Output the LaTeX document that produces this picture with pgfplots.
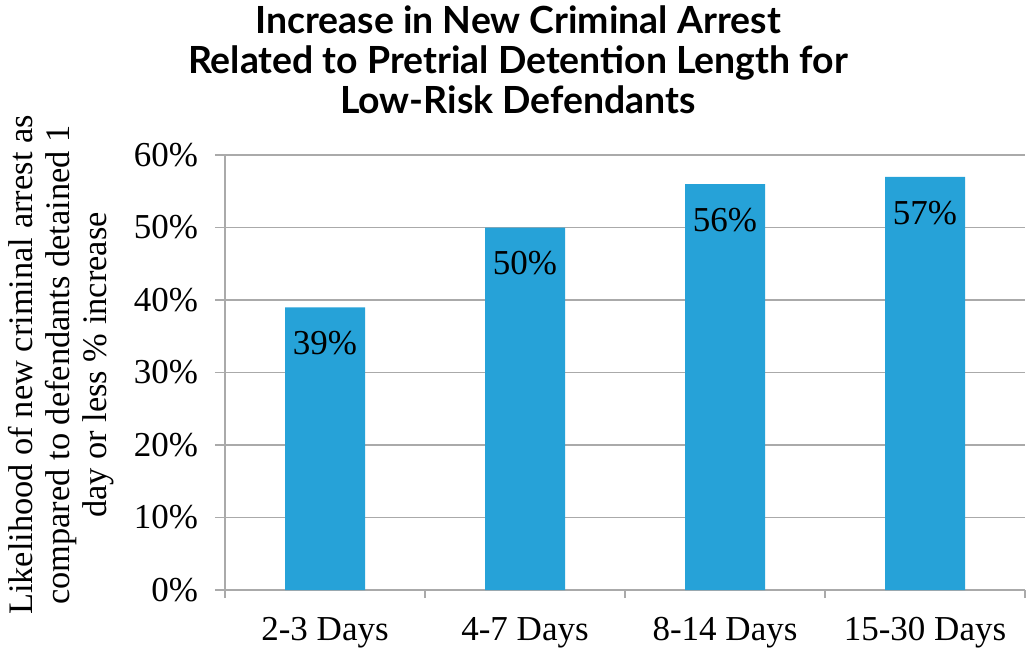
\documentclass[border=0pt]{standalone}
\usepackage{pgfplots}
\pgfplotsset{compat=1.18}
\usepackage{fontspec}
\setmainfont{Liberation Serif}
\newfontfamily\titlefont{Lato}
\definecolor{barblue}{RGB}{38,162,216}
\definecolor{gridgray}{RGB}{170,170,170}

\begin{document}
\begin{tikzpicture}
\path[use as bounding box] (-112.5pt,-30pt) rectangle (400.5pt,295pt);
\begin{axis}[
	at={(0,0)}, anchor=south west,
	scale only axis, width=400pt, height=217.5pt,
	ybar, bar width=40pt,
	xmin=-0.5, xmax=3.5, ymin=0, ymax=60,
	axis x line=bottom, axis y line=left,
	axis line style={-, draw=gridgray, line width=0.8pt},
	ytick={0,10,...,60},
	yticklabel={\pgfmathprintnumber{\tick}\%},
	ymajorgrids, grid style={gridgray, line width=0.8pt},
	xtick={0,1,2,3},
	xticklabels={2-3 Days, 4-7 Days, 8-14 Days, 15-30 Days},
	minor xtick={-0.5,0.5,1.5,2.5,3.5},
	tick align=outside, major tick length=5pt, minor tick length=4pt,
	tick style={draw=gridgray, line width=0.8pt},
	major x tick style={draw=none},
	ticklabel style={font=\fontsize{17.5}{20}\selectfont},
	yticklabel style={xshift=-5pt},
	xticklabel style={yshift=-5pt},
	/pgf/number format/assume math mode=true,
	nodes near coords={\pgfmathprintnumber{\pgfplotspointmeta}\%},
	every node near coord/.append style={anchor=center, yshift=-18pt, font=\fontsize{17.5}{20}\selectfont, black},
]
\addplot[fill=barblue, draw=none] coordinates {(0,39) (1,50) (2,56) (3,57)};
\end{axis}
\begin{scope}[every node/.style={anchor=base, font=\titlefont\bfseries\fontsize{18.7}{20}\selectfont}]
\node at (146.5pt,278.5pt) {Increase in New Criminal Arrest};
\node at (146.5pt,258.5pt) {Related to Pretrial Detention Length for};
\node at (146.5pt,238.5pt) {Low-Risk Defendants};
\end{scope}
\begin{scope}[every node/.style={anchor=base, rotate=90, font=\fontsize{17.2}{18}\selectfont}]
\node at (-96pt,112.5pt) {Likelihood of new criminal arrest as};
\node at (-77.5pt,112.5pt) {compared to defendants detained 1};
\node at (-59pt,112.5pt) {day or less \% increase};
\end{scope}
\end{tikzpicture}
\end{document}
